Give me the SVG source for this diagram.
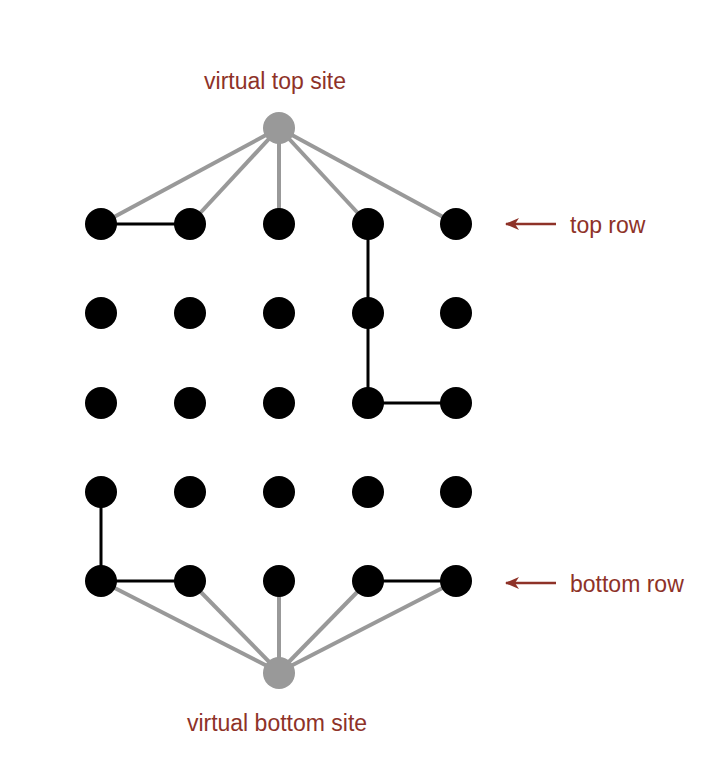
<svg xmlns="http://www.w3.org/2000/svg" width="710" height="780" viewBox="0 0 710 780">
<defs>
<style>
.site{fill:#000}
.virt{fill:#999}
.gray{stroke:#999;stroke-width:4;fill:none}
.blk{stroke:#000;stroke-width:3;fill:none}
.lbl{font-family:"Liberation Sans",Arial,sans-serif;font-size:23px;fill:#8E3228}
.arr{stroke:#8E3228;stroke-width:2.5;fill:none}
</style>
<marker id="ah" markerWidth="14" markerHeight="12" refX="13" refY="6" orient="auto" markerUnits="userSpaceOnUse">
<path d="M14,6 L0,0 L4,6 L0,12 Z" fill="#8E3228"/>
</marker>
</defs>
<rect width="710" height="780" fill="#fff"/>
<g id="connectors">
<line class="gray" x1="279" y1="128" x2="101" y2="224"/>
<line class="gray" x1="279" y1="128" x2="190" y2="224"/>
<line class="gray" x1="279" y1="128" x2="279" y2="224"/>
<line class="gray" x1="279" y1="128" x2="368" y2="224"/>
<line class="gray" x1="279" y1="128" x2="456" y2="224"/>
<line class="gray" x1="279" y1="672" x2="101" y2="581"/>
<line class="gray" x1="279" y1="672" x2="190" y2="581"/>
<line class="gray" x1="279" y1="672" x2="279" y2="581"/>
<line class="gray" x1="279" y1="672" x2="368" y2="581"/>
<line class="gray" x1="279" y1="672" x2="456" y2="581"/>
<line class="blk" x1="101" y1="224" x2="190" y2="224"/>
<polyline class="blk" points="368,224 368,313 368,403 456,403"/>
<polyline class="blk" points="101,492 101,581 190,581"/>
<line class="blk" x1="368" y1="581" x2="456" y2="581"/>
<line class="arr" x1="556" y1="224" x2="506" y2="224" marker-end="url(#ah)"/>
<line class="arr" x1="556" y1="583" x2="506" y2="583" marker-end="url(#ah)"/>
</g>
<g id="virtual-top"><circle class="virt" cx="279" cy="128" r="16"/><text class="lbl" x="275" y="89" text-anchor="middle">virtual top site</text></g>
<g id="virtual-bottom"><circle class="virt" cx="279" cy="673" r="16"/><text class="lbl" x="277" y="731" text-anchor="middle">virtual bottom site</text></g>
<g id="label-top-row"><text class="lbl" x="570" y="233">top row</text></g>
<g id="label-bottom-row"><text class="lbl" x="570" y="592">bottom row</text></g>
<g id="r1c1"><circle class="site" cx="101" cy="224" r="16"/></g>
<g id="r1c2"><circle class="site" cx="190" cy="224" r="16"/></g>
<g id="r1c3"><circle class="site" cx="279" cy="224" r="16"/></g>
<g id="r1c4"><circle class="site" cx="368" cy="224" r="16"/></g>
<g id="r1c5"><circle class="site" cx="456" cy="224" r="16"/></g>
<g id="r2c1"><circle class="site" cx="101" cy="313" r="16"/></g>
<g id="r2c2"><circle class="site" cx="190" cy="313" r="16"/></g>
<g id="r2c3"><circle class="site" cx="279" cy="313" r="16"/></g>
<g id="r2c4"><circle class="site" cx="368" cy="313" r="16"/></g>
<g id="r2c5"><circle class="site" cx="456" cy="313" r="16"/></g>
<g id="r3c1"><circle class="site" cx="101" cy="403" r="16"/></g>
<g id="r3c2"><circle class="site" cx="190" cy="403" r="16"/></g>
<g id="r3c3"><circle class="site" cx="279" cy="403" r="16"/></g>
<g id="r3c4"><circle class="site" cx="368" cy="403" r="16"/></g>
<g id="r3c5"><circle class="site" cx="456" cy="403" r="16"/></g>
<g id="r4c1"><circle class="site" cx="101" cy="492" r="16"/></g>
<g id="r4c2"><circle class="site" cx="190" cy="492" r="16"/></g>
<g id="r4c3"><circle class="site" cx="279" cy="492" r="16"/></g>
<g id="r4c4"><circle class="site" cx="368" cy="492" r="16"/></g>
<g id="r4c5"><circle class="site" cx="456" cy="492" r="16"/></g>
<g id="r5c1"><circle class="site" cx="101" cy="581" r="16"/></g>
<g id="r5c2"><circle class="site" cx="190" cy="581" r="16"/></g>
<g id="r5c3"><circle class="site" cx="279" cy="581" r="16"/></g>
<g id="r5c4"><circle class="site" cx="368" cy="581" r="16"/></g>
<g id="r5c5"><circle class="site" cx="456" cy="581" r="16"/></g>
</svg>
